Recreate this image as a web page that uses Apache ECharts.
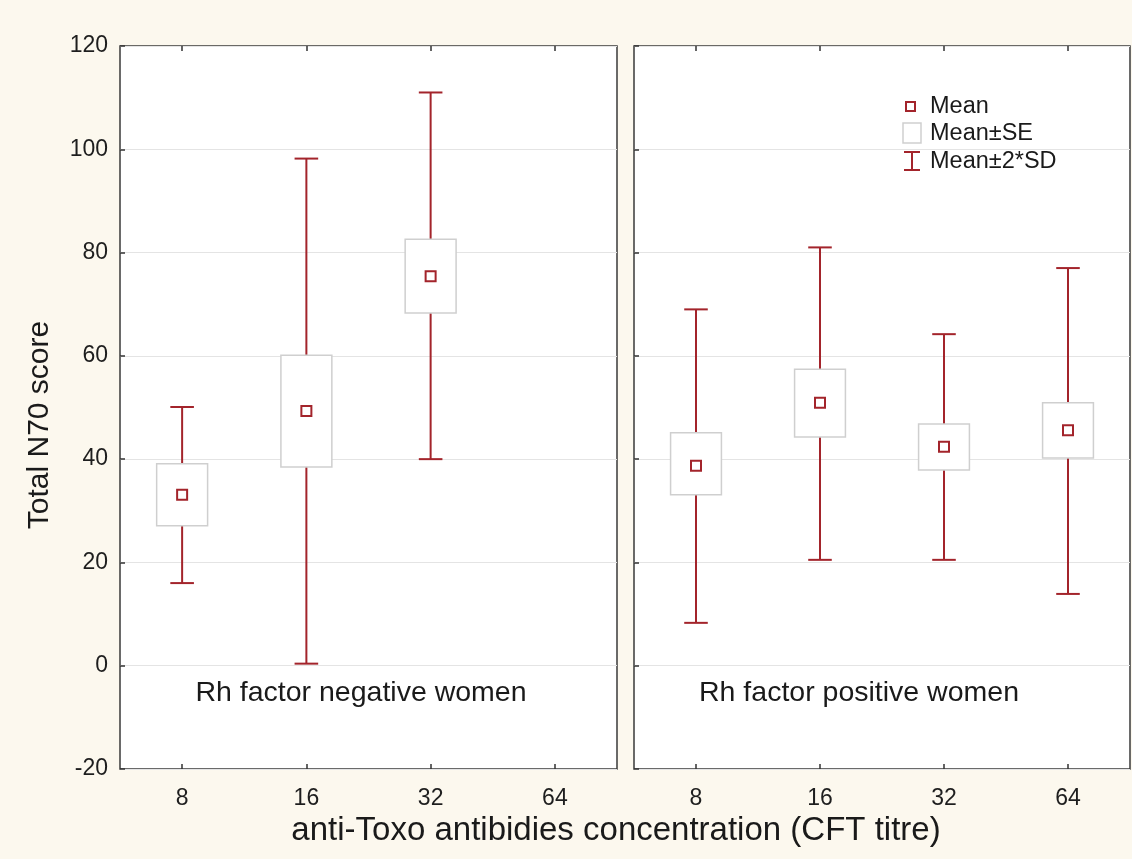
<!DOCTYPE html>
<html>
<head>
<meta charset="utf-8">
<script src="https://cdn.jsdelivr.net/npm/echarts@6/dist/echarts.min.js"></script>
<style>
html,body{margin:0;padding:0;background:#fcf8ee;}
#c{width:1132px;height:859px;}
</style>
</head>
<body>
<div id="c"></div>
<script>
// ---- data ----
var categories = ['8', '16', '32', '64'];
var yTicks = [-20, 0, 20, 40, 60, 80, 100, 120];
// Rh factor negative women
var negMean   = [33.1, 49.3, 75.4, null];
var negSELow  = [27.1, 38.5, 68.3, null];
var negSEHigh = [39.1, 60.1, 82.6, null];
var negSDLow  = [16.0, 0.4, 40.0, null];
var negSDHigh = [50.1, 98.2, 111.0, null];
// Rh factor positive women
var posMean   = [38.7, 50.9, 42.4, 45.6];
var posSELow  = [33.1, 44.3, 37.9, 40.2];
var posSEHigh = [45.1, 57.4, 46.8, 50.9];
var posSDLow  = [8.3, 20.5, 20.5, 13.9];
var posSDHigh = [69.0, 81.0, 64.2, 77.0];

var panelLabels = ['Rh factor negative women', 'Rh factor positive women'];
var legendLabels = ['Mean', 'Mean\u00b1SE', 'Mean\u00b12*SD'];
var yTitle = 'Total N70 score';
var xTitle = 'anti-Toxo antibidies concentration (CFT titre)';

var RED = '#a3242b';
var FONT = '"Liberation Sans", Arial, sans-serif';

function buildData(m, sl, sh, dl, dh) {
  var out = [];
  for (var i = 0; i < categories.length; i++) {
    if (m[i] == null) continue;
    out.push([i, m[i], sl[i], sh[i], dl[i], dh[i]]);
  }
  return out;
}

function renderItem(params, api) {
  var idx = api.value(0);
  var pMean = api.coord([idx, api.value(1)]);
  var pSeL = api.coord([idx, api.value(2)]);
  var pSeH = api.coord([idx, api.value(3)]);
  var pSdL = api.coord([idx, api.value(4)]);
  var pSdH = api.coord([idx, api.value(5)]);
  var bw = api.size([1, 0])[0];
  var boxW = bw * 0.41;
  var capW = bw * 0.19;
  var x = pMean[0];
  var ms = 10;
  return {
    type: 'group',
    children: [
      { type: 'line', shape: { x1: x, y1: pSdL[1], x2: x, y2: pSdH[1] }, style: { stroke: RED, lineWidth: 2 } },
      { type: 'line', shape: { x1: x - capW / 2, y1: pSdL[1], x2: x + capW / 2, y2: pSdL[1] }, style: { stroke: RED, lineWidth: 2 } },
      { type: 'line', shape: { x1: x - capW / 2, y1: pSdH[1], x2: x + capW / 2, y2: pSdH[1] }, style: { stroke: RED, lineWidth: 2 } },
      { type: 'rect', shape: { x: x - boxW / 2, y: pSeH[1], width: boxW, height: pSeL[1] - pSeH[1] }, style: { fill: '#fff', stroke: '#cfcfcf', lineWidth: 1.5 } },
      { type: 'rect', shape: { x: x - ms / 2, y: pMean[1] - ms / 2, width: ms, height: ms }, style: { fill: '#fff', stroke: RED, lineWidth: 2 } }
    ]
  };
}

var gridCommon = { top: 46, bottom: 90, show: true, backgroundColor: '#ffffff', borderColor: '#3a3a3a', borderWidth: 1.5, containLabel: false };

function xAxisFor(gi, pos, showLabel) {
  return {
    type: 'category', gridIndex: gi, data: categories, position: pos,
    boundaryGap: true,
    axisLine: { show: false, onZero: false },
    axisTick: { show: true, inside: true, alignWithLabel: true, length: 5, lineStyle: { color: '#333', width: 1.5 } },
    axisLabel: { show: showLabel, color: '#1e1e1e', fontSize: 23, fontFamily: FONT, margin: 18 },
    splitLine: { show: false }
  };
}
function yAxisFor(gi, showLabel) {
  return {
    type: 'value', gridIndex: gi, min: -20, max: 120, interval: 20, position: 'left',
    axisLine: { show: false, onZero: false },
    axisTick: { show: true, inside: true, length: 5, lineStyle: { color: '#333', width: 1.5 } },
    axisLabel: { show: showLabel, color: '#1e1e1e', fontSize: 23, fontFamily: FONT, margin: 12,
      formatter: function (v) { return yTicks.indexOf(v) >= 0 ? String(v) : ''; } },
    splitLine: { show: true, lineStyle: { color: '#e4e4e4', width: 1 } }
  };
}

var option = {
  backgroundColor: '#fcf8ee',
  animation: false,
  grid: [
    Object.assign({}, gridCommon, { left: 120, width: 497 }),
    Object.assign({}, gridCommon, { left: 634, width: 496 })
  ],
  xAxis: [xAxisFor(0, 'bottom', true), xAxisFor(1, 'bottom', true), xAxisFor(0, 'top', false), xAxisFor(1, 'top', false)],
  yAxis: [yAxisFor(0, true), yAxisFor(1, false)],
  series: [
    { type: 'custom', name: panelLabels[0], xAxisIndex: 0, yAxisIndex: 0, renderItem: renderItem,
      data: buildData(negMean, negSELow, negSEHigh, negSDLow, negSDHigh), z: 5 },
    { type: 'custom', name: panelLabels[1], xAxisIndex: 1, yAxisIndex: 1, renderItem: renderItem,
      data: buildData(posMean, posSELow, posSEHigh, posSDLow, posSDHigh), z: 5 }
  ],
  graphic: [
    { type: 'text', x: 361, y: 693, z: 10, style: { text: panelLabels[0], font: '28.5px ' + FONT, fill: '#1a1a1a', textAlign: 'center', textVerticalAlign: 'middle' } },
    { type: 'text', x: 859, y: 693, z: 10, style: { text: panelLabels[1], font: '28.5px ' + FONT, fill: '#1a1a1a', textAlign: 'center', textVerticalAlign: 'middle' } },
    { type: 'text', x: 40, y: 425, rotation: Math.PI / 2, z: 10, style: { text: yTitle, font: '30px ' + FONT, fill: '#1a1a1a', textAlign: 'center', textVerticalAlign: 'middle' } },
    { type: 'text', x: 616, y: 831, z: 10, style: { text: xTitle, font: '33px ' + FONT, fill: '#1a1a1a', textAlign: 'center', textVerticalAlign: 'middle' } },
    // legend
    { type: 'rect', z: 10, shape: { x: 906, y: 102, width: 9, height: 9 }, style: { fill: '#fff', stroke: RED, lineWidth: 2 } },
    { type: 'text', x: 930, y: 107, z: 10, style: { text: legendLabels[0], font: '23.5px ' + FONT, fill: '#1a1a1a', textAlign: 'left', textVerticalAlign: 'middle' } },
    { type: 'rect', z: 10, shape: { x: 903, y: 123, width: 18, height: 20 }, style: { fill: '#fff', stroke: '#cfcfcf', lineWidth: 1.5 } },
    { type: 'text', x: 930, y: 134, z: 10, style: { text: legendLabels[1], font: '23.5px ' + FONT, fill: '#1a1a1a', textAlign: 'left', textVerticalAlign: 'middle' } },
    { type: 'line', z: 10, shape: { x1: 912, y1: 152, x2: 912, y2: 170 }, style: { stroke: RED, lineWidth: 2 } },
    { type: 'line', z: 10, shape: { x1: 904, y1: 152, x2: 920, y2: 152 }, style: { stroke: RED, lineWidth: 2 } },
    { type: 'line', z: 10, shape: { x1: 904, y1: 170, x2: 920, y2: 170 }, style: { stroke: RED, lineWidth: 2 } },
    { type: 'text', x: 930, y: 162, z: 10, style: { text: legendLabels[2], font: '23.5px ' + FONT, fill: '#1a1a1a', textAlign: 'left', textVerticalAlign: 'middle' } }
  ]
};

var chart = echarts.init(document.getElementById('c'), null, { renderer: 'canvas' });
chart.setOption(option);
</script>
</body>
</html>
